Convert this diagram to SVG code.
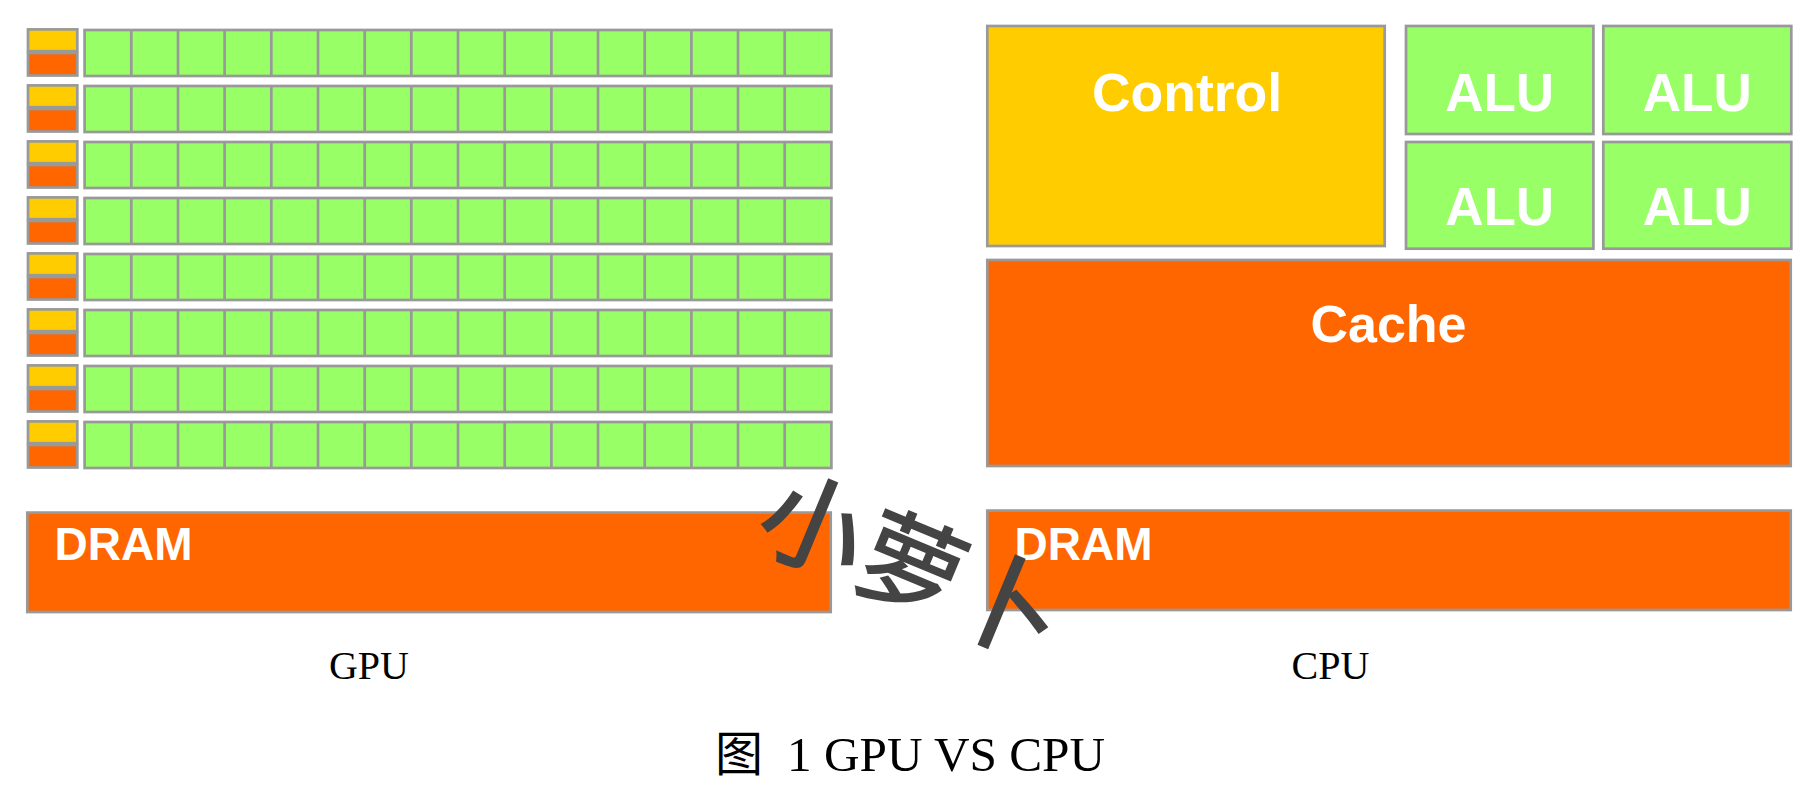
<svg xmlns="http://www.w3.org/2000/svg" xmlns:xlink="http://www.w3.org/1999/xlink" width="1819" height="788" viewBox="0 0 1819 788">
<style>
.b{stroke:#999999;stroke-width:2.7}
.g{fill:#99FF66}
.y{fill:#FFCC00}
.o{fill:#FF6600}
.lbl{font-family:"Liberation Sans",Arial,sans-serif;font-weight:bold;fill:#FFFFFF}
.cap{font-family:"Liberation Serif","Times New Roman",serif;fill:#000000}
.wm{font-family:"Noto Sans CJK SC",sans-serif;font-weight:500;fill:#444444}
</style>
<defs>
<g id="row">
<rect class="b y" x="28" y="29.4" width="49.3" height="21.8"/>
<rect class="b o" x="28" y="53" width="49.3" height="22.5"/>
<rect class="b g" x="84.6" y="30" width="746.8" height="46"/>
<path class="b" fill="none" d="M131.3 30v46M178 30v46M224.6 30v46M271.3 30v46M318 30v46M364.7 30v46M411.3 30v46M458 30v46M504.7 30v46M551.4 30v46M598 30v46M644.7 30v46M691.4 30v46M738 30v46M784.7 30v46"/>
</g>
</defs>
<g id="gpu-cores">
<use xlink:href="#row" href="#row" y="0"/>
<use xlink:href="#row" href="#row" y="56"/>
<use xlink:href="#row" href="#row" y="112"/>
<use xlink:href="#row" href="#row" y="168"/>
<use xlink:href="#row" href="#row" y="224"/>
<use xlink:href="#row" href="#row" y="280"/>
<use xlink:href="#row" href="#row" y="336"/>
<use xlink:href="#row" href="#row" y="392"/>
</g>
<g id="gpu-dram">
<rect class="b o" x="27.3" y="512.6" width="803.4" height="99.4"/>
<text class="lbl" x="54.5" y="560" font-size="46">DRAM</text>
</g>
<g id="cpu-control">
<rect class="b y" x="987.3" y="26" width="397.4" height="220"/>
<text class="lbl" x="1187" y="110.7" font-size="53.5" text-anchor="middle">Control</text>
</g>
<g id="cpu-alu1">
<rect class="b g" x="1406" y="26" width="187.4" height="108"/>
<text class="lbl" x="1499.7" y="110.7" font-size="53" text-anchor="middle">ALU</text>
</g>
<g id="cpu-alu2">
<rect class="b g" x="1603.3" y="26" width="188" height="108"/>
<text class="lbl" x="1697.3" y="110.7" font-size="53" text-anchor="middle">ALU</text>
</g>
<g id="cpu-alu3">
<rect class="b g" x="1406" y="142" width="187.4" height="106.7"/>
<text class="lbl" x="1499.7" y="225" font-size="53" text-anchor="middle">ALU</text>
</g>
<g id="cpu-alu4">
<rect class="b g" x="1603.3" y="142" width="188" height="106.7"/>
<text class="lbl" x="1697.3" y="225" font-size="53" text-anchor="middle">ALU</text>
</g>
<g id="cpu-cache">
<rect class="b o" x="987.3" y="260" width="803.4" height="206"/>
<text class="lbl" x="1388.5" y="342.3" font-size="52" text-anchor="middle">Cache</text>
</g>
<g id="cpu-dram">
<rect class="b o" x="987.3" y="510.6" width="803.4" height="99.4"/>
<text class="lbl" x="1014.5" y="560" font-size="46">DRAM</text>
</g>
<g id="connectors"></g>
<g id="labels">
<text class="cap" x="369" y="679" font-size="40" text-anchor="middle">GPU</text>
<text class="cap" x="1330.5" y="679" font-size="40" text-anchor="middle">CPU</text>
<text x="715" y="770.7" font-size="48" font-family="Noto Sans CJK SC,sans-serif" fill="#000000">图</text>
<text class="cap" x="787" y="770.7" font-size="48" textLength="318" lengthAdjust="spacingAndGlyphs">1 GPU VS CPU</text>
</g>
<g id="watermark" transform="translate(912,566) rotate(22.5)">
<text class="wm" x="0" y="39" font-size="106" text-anchor="middle">小萝卜</text>
</g>
</svg>
